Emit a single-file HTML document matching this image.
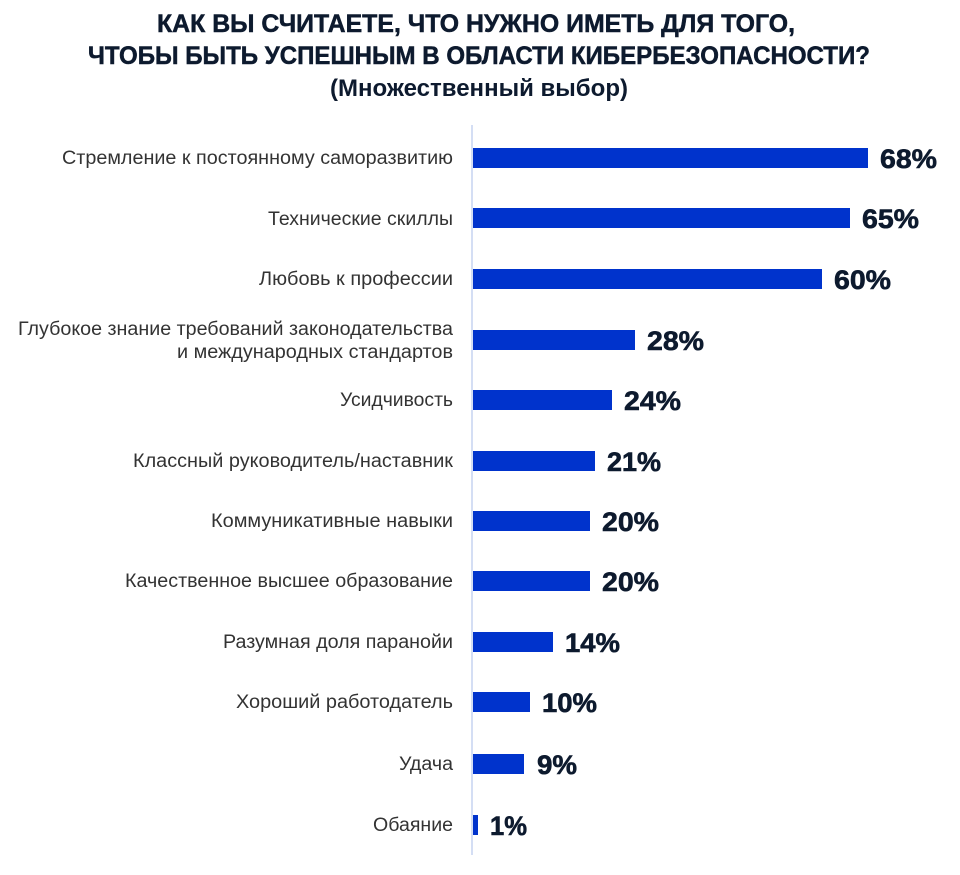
<!DOCTYPE html>
<html><head><meta charset="utf-8"><style>
html,body{margin:0;padding:0;background:#fff;width:960px;height:875px;overflow:hidden}
svg{display:block}
.t{font-family:"Liberation Sans",sans-serif;font-weight:bold;fill:#0d1a2e}
.c{font-family:"Liberation Sans",sans-serif;fill:#333;font-size:19px}
.v{font-family:"Liberation Sans",sans-serif;font-weight:bold;fill:#0d1a2e;font-size:27px;stroke:#0d1a2e;stroke-width:0.6}
</style></head><body>
<svg width="960" height="875" viewBox="0 0 960 875">
<text class="t" x="157" y="32" font-size="25" textLength="638" lengthAdjust="spacingAndGlyphs" stroke="#0d1a2e" stroke-width="0.5">КАК ВЫ СЧИТАЕТЕ, ЧТО НУЖНО ИМЕТЬ ДЛЯ ТОГО,</text>
<text class="t" x="88" y="64" font-size="25" textLength="782" lengthAdjust="spacingAndGlyphs" stroke="#0d1a2e" stroke-width="0.5">ЧТОБЫ БЫТЬ УСПЕШНЫМ В ОБЛАСТИ КИБЕРБЕЗОПАСНОСТИ?</text>
<text class="t" x="330" y="96" font-size="24" textLength="298" lengthAdjust="spacingAndGlyphs">(Множественный выбор)</text>
<line x1="472" y1="125" x2="472" y2="855" stroke="#c5d3f0" stroke-width="1.5"/>
<g fill="#0033cc">
<rect x="473" y="148" width="395" height="20"/>
<rect x="473" y="208" width="377" height="20"/>
<rect x="473" y="269" width="349" height="20"/>
<rect x="473" y="330" width="162" height="20"/>
<rect x="473" y="390" width="139" height="20"/>
<rect x="473" y="451" width="122" height="20"/>
<rect x="473" y="511" width="117" height="20"/>
<rect x="473" y="571" width="117" height="20"/>
<rect x="473" y="632" width="80" height="20"/>
<rect x="473" y="692" width="57" height="20"/>
<rect x="473" y="754" width="51" height="20"/>
<rect x="473" y="815" width="5" height="20"/>
</g>
<g class="c">
<text x="62" y="164" textLength="391" lengthAdjust="spacingAndGlyphs">Стремление к постоянному саморазвитию</text>
<text x="268" y="225" textLength="185" lengthAdjust="spacingAndGlyphs">Технические скиллы</text>
<text x="259" y="285" textLength="194" lengthAdjust="spacingAndGlyphs">Любовь к профессии</text>
<text x="18" y="335" textLength="435" lengthAdjust="spacingAndGlyphs">Глубокое знание требований законодательства</text>
<text x="177" y="358" textLength="276" lengthAdjust="spacingAndGlyphs">и международных стандартов</text>
<text x="340" y="406" textLength="113" lengthAdjust="spacingAndGlyphs">Усидчивость</text>
<text x="133" y="467" textLength="320" lengthAdjust="spacingAndGlyphs">Классный руководитель/наставник</text>
<text x="211" y="527" textLength="242" lengthAdjust="spacingAndGlyphs">Коммуникативные навыки</text>
<text x="125" y="587" textLength="328" lengthAdjust="spacingAndGlyphs">Качественное высшее образование</text>
<text x="223" y="648" textLength="230" lengthAdjust="spacingAndGlyphs">Разумная доля паранойи</text>
<text x="236" y="708" textLength="217" lengthAdjust="spacingAndGlyphs">Хороший работодатель</text>
<text x="399" y="770" textLength="54" lengthAdjust="spacingAndGlyphs">Удача</text>
<text x="373" y="831" textLength="80" lengthAdjust="spacingAndGlyphs">Обаяние</text>
</g>
<g class="v">
<text x="880" y="168" textLength="57" lengthAdjust="spacingAndGlyphs">68%</text>
<text x="862" y="228" textLength="57" lengthAdjust="spacingAndGlyphs">65%</text>
<text x="834" y="289" textLength="57" lengthAdjust="spacingAndGlyphs">60%</text>
<text x="647" y="350" textLength="57" lengthAdjust="spacingAndGlyphs">28%</text>
<text x="624" y="410" textLength="57" lengthAdjust="spacingAndGlyphs">24%</text>
<text x="607" y="471" textLength="54" lengthAdjust="spacingAndGlyphs">21%</text>
<text x="602" y="531" textLength="57" lengthAdjust="spacingAndGlyphs">20%</text>
<text x="602" y="591" textLength="57" lengthAdjust="spacingAndGlyphs">20%</text>
<text x="565" y="652" textLength="55" lengthAdjust="spacingAndGlyphs">14%</text>
<text x="542" y="712" textLength="55" lengthAdjust="spacingAndGlyphs">10%</text>
<text x="537" y="774" textLength="40" lengthAdjust="spacingAndGlyphs">9%</text>
<text x="490" y="835" textLength="37" lengthAdjust="spacingAndGlyphs">1%</text>
</g>
</svg>
</body></html>
